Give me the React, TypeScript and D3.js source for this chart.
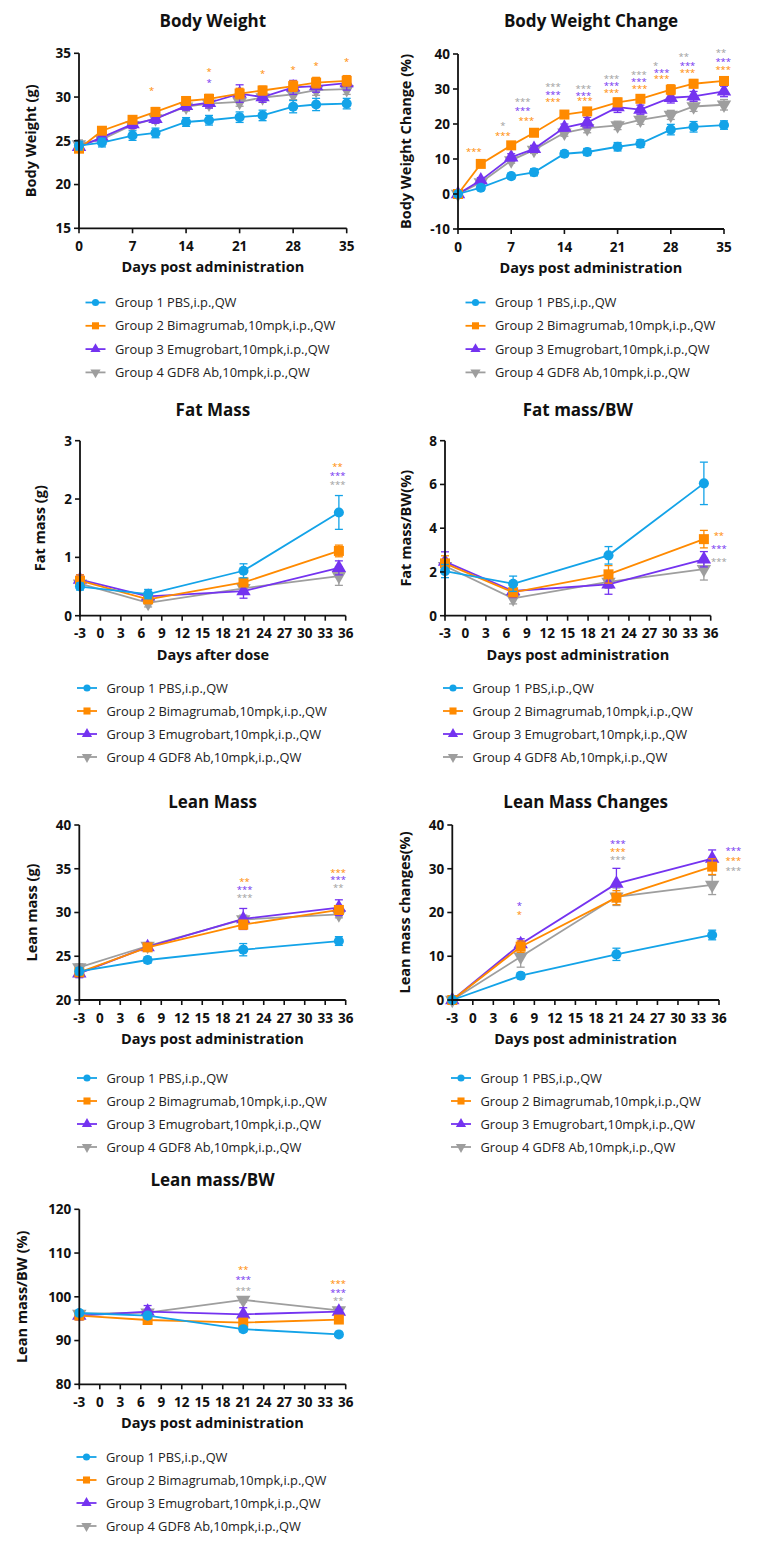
import React from "react";
import * as d3 from "d3";

// ---------- shared ----------
const groupNames = [
  "Group 1 PBS,i.p.,QW",
  "Group 2 Bimagrumab,10mpk,i.p.,QW",
  "Group 3 Emugrobart,10mpk,i.p.,QW",
  "Group 4 GDF8 Ab,10mpk,i.p.,QW",
];
const groupColors = ["#13A3E8", "#FF8A00", "#7433F0", "#9E9E9E"];

// ---------- Body Weight ----------
const bwDays = [0, 3, 7, 10, 14, 17, 21, 24, 28, 31, 35];
const bwG1 = [24.45, 24.8, 25.6, 25.9, 27.15, 27.35, 27.7, 27.9, 28.9, 29.15, 29.25];
const bwG2 = [24.1, 26.15, 27.4, 28.3, 29.55, 29.8, 30.4, 30.75, 31.25, 31.65, 31.85];
const bwG3 = [24.3, 25.4, 26.9, 27.5, 29.0, 29.35, 30.4, 30.0, 31.1, 31.25, 31.6];
const bwG4 = [24.6, 25.15, 26.8, 27.55, 28.9, 29.25, 29.45, 29.95, 30.3, 30.8, 30.9];
const bwE1 = [0.5, 0.5, 0.55, 0.55, 0.5, 0.55, 0.6, 0.6, 0.7, 0.7, 0.6];
const bwE2 = [0.3, 0.4, 0.4, 0.5, 0.5, 0.5, 0.6, 0.5, 0.6, 0.6, 0.6];
const bwE3 = [0.4, 0.4, 0.5, 0.5, 0.5, 0.6, 1.0, 0.6, 0.8, 0.7, 0.8];
const bwE4 = [0.5, 0.4, 0.4, 0.5, 0.5, 0.5, 0.5, 0.5, 0.6, 0.6, 0.6];
const bwStars: [number, number, string, number][] = [
  [9.5, 30.9, "*", 1],
  [17, 33.0, "*", 1],
  [17, 31.8, "*", 2],
  [24, 32.8, "*", 1],
  [28, 33.3, "*", 1],
  [31, 33.7, "*", 1],
  [35, 34.2, "*", 1],
];

// ---------- Body Weight Change ----------
const bwcG1 = [0, 1.8, 5.1, 6.2, 11.5, 12.0, 13.5, 14.4, 18.4, 19.2, 19.7];
const bwcG2 = [0, 8.6, 13.9, 17.5, 22.7, 23.6, 26.2, 27.2, 29.8, 31.5, 32.3];
const bwcG3 = [0, 3.9, 10.5, 12.9, 19.0, 20.4, 24.8, 24.1, 27.5, 27.9, 29.3];
const bwcG4 = [0, 3.3, 9.6, 12.6, 17.5, 18.8, 19.6, 21.2, 22.6, 25.0, 25.5];
const bwcE1 = [0.3, 0.8, 0.8, 1.0, 0.8, 1.0, 1.2, 1.1, 1.5, 1.5, 1.2];
const bwcE2 = [0.3, 0.8, 0.8, 0.8, 0.9, 1.0, 1.2, 1.0, 1.4, 1.2, 1.2];
const bwcE3 = [0.3, 0.8, 1.0, 1.0, 1.0, 1.5, 1.5, 1.3, 1.5, 1.4, 1.5];
const bwcE4 = [0.3, 0.7, 0.8, 1.0, 1.0, 1.3, 1.2, 1.3, 1.3, 1.4, 1.5];
const bwcStars: [number, number, string, number][] = [
  [2.1, 12.4, "***", 1],
  [5.9, 20.0, "*", 3],
  [5.9, 17.1, "***", 1],
  [8.5, 26.6, "***", 3],
  [8.5, 24.2, "***", 2],
  [9.0, 21.4, "***", 1],
  [12.5, 30.9, "***", 3],
  [12.5, 28.8, "***", 2],
  [12.5, 26.7, "***", 1],
  [16.5, 30.5, "***", 3],
  [16.5, 28.4, "***", 2],
  [16.7, 26.9, "***", 1],
  [20.2, 33.3, "***", 3],
  [20.2, 31.2, "***", 2],
  [20.2, 29.2, "***", 1],
  [23.8, 34.3, "***", 3],
  [23.8, 32.5, "***", 2],
  [23.9, 30.4, "***", 1],
  [26.0, 37.0, "*", 3],
  [26.8, 35.0, "***", 2],
  [26.8, 33.4, "***", 1],
  [29.7, 39.5, "**", 3],
  [30.2, 37.1, "***", 2],
  [30.2, 35.1, "***", 1],
  [34.6, 40.8, "**", 3],
  [34.9, 38.2, "***", 2],
  [34.9, 35.8, "***", 1],
];

// ---------- DEXA time points ----------
const scanDays = [-3, 7, 21, 35];

// Fat Mass
const fmG1 = [0.5, 0.37, 0.77, 1.77];
const fmG2 = [0.6, 0.28, 0.57, 1.11];
const fmG3 = [0.62, 0.33, 0.42, 0.82];
const fmG4 = [0.55, 0.22, 0.47, 0.68];
const fmE1 = [0.06, 0.08, 0.12, 0.29];
const fmE2 = [0.1, 0.05, 0.07, 0.1];
const fmE3 = [0.08, 0.06, 0.12, 0.12];
const fmE4 = [0.06, 0.07, 0.06, 0.16];
const fmStars: [number, number, string, number][] = [
  [34.8, 2.57, "**", 1],
  [34.8, 2.42, "***", 2],
  [34.8, 2.27, "***", 3],
];

// Fat mass / BW
const fbG1 = [2.04, 1.46, 2.76, 6.05];
const fbG2 = [2.39, 1.07, 1.89, 3.5];
const fbG3 = [2.47, 1.13, 1.43, 2.58];
const fbG4 = [2.27, 0.79, 1.55, 2.13];
const fbE1 = [0.3, 0.35, 0.4, 0.97];
const fbE2 = [0.35, 0.2, 0.4, 0.4];
const fbE3 = [0.45, 0.3, 0.45, 0.35];
const fbE4 = [0.3, 0.25, 0.3, 0.5];
const fbStars: [number, number, string, number][] = [
  [37.2, 3.73, "**", 1],
  [37.2, 3.12, "***", 2],
  [37.2, 2.54, "***", 3],
];

// Lean Mass
const lmG1 = [23.28, 24.57, 25.75, 26.74];
const lmG2 = [23.16, 26.02, 28.61, 30.29];
const lmG3 = [23.05, 26.06, 29.26, 30.55];
const lmG4 = [23.73, 26.17, 29.2, 29.79];
const lmE1 = [0.4, 0.35, 0.7, 0.5];
const lmE2 = [0.4, 0.4, 0.5, 0.5];
const lmE3 = [0.5, 0.4, 1.2, 0.9];
const lmE4 = [0.4, 0.4, 0.5, 0.4];
const lmStars: [number, number, string, number][] = [
  [21.2, 33.64, "**", 1],
  [21.2, 32.72, "***", 2],
  [21.2, 31.85, "***", 3],
  [34.9, 34.63, "***", 1],
  [34.9, 33.83, "***", 2],
  [34.9, 32.95, "**", 3],
];

// Lean mass changes
const lcG1 = [0, 5.56, 10.44, 14.86];
const lcG2 = [0, 12.19, 23.39, 30.48];
const lcG3 = [0, 12.8, 26.59, 32.3];
const lcG4 = [0, 9.9, 23.6, 26.3];
const lcE1 = [0.3, 0.7, 1.4, 1.1];
const lcE2 = [0.3, 1.3, 1.6, 1.8];
const lcE3 = [0.3, 1.2, 3.5, 2.0];
const lcE4 = [0.3, 2.4, 2.0, 2.2];
const lcStars: [number, number, string, number][] = [
  [6.8, 21.87, "*", 2],
  [6.8, 19.81, "*", 1],
  [21.2, 35.96, "***", 2],
  [21.2, 34.2, "***", 1],
  [21.2, 32.4, "***", 3],
  [38.1, 34.3, "***", 2],
  [38.1, 32.2, "***", 1],
  [38.1, 29.9, "***", 3],
];

// Lean mass / BW
const lbG1 = [96.3, 95.7, 92.6, 91.4];
const lbG2 = [95.7, 94.7, 94.1, 94.8];
const lbG3 = [95.7, 96.6, 96.0, 96.6];
const lbG4 = [96.1, 96.4, 99.3, 96.9];
const lbE1 = [0.6, 0.6, 0.6, 0.5];
const lbE2 = [0.5, 0.7, 0.6, 0.5];
const lbE3 = [1.0, 1.4, 1.5, 0.5];
const lbE4 = [0.6, 0.6, 0.5, 0.5];
const lbStars: [number, number, string, number][] = [
  [21, 106.5, "**", 1],
  [21, 104.1, "***", 2],
  [21, 101.7, "***", 3],
  [34.9, 103.3, "***", 1],
  [34.9, 101.2, "***", 2],
  [34.9, 99.4, "**", 3],
];

const weekTicks = [0, 7, 14, 21, 28, 35];
const dayTicks = [-3, 0, 3, 6, 9, 12, 15, 18, 21, 24, 27, 30, 33, 36];

const FONT = "'Open Sans', 'Noto Sans', sans-serif";

type PanelProps = {
  title: string;
  titleY: number;
  yLabel: string;
  yLabelOffset: number;
  xLabel: string;
  box: { x0: number; x1: number; yTop: number; yBottom: number };
  xDomain: [number, number];
  yDomain: [number, number];
  xTicks: number[];
  yTicks: number[];
  days: number[];
  values: number[][];
  errors: number[][];
  stars: [number, number, string, number][];
  legend: { symX: number; textX: number; y0: number; step: number };
};

const symbolTypes = [d3.symbolCircle, d3.symbolSquare, d3.symbolTriangle, d3.symbolTriangle];
const symbolSizes = [80, 100, 90, 90];

function Marker({ g, x, y, scale = 1 }: { g: number; x: number; y: number; scale?: number }) {
  const path = d3.symbol().type(symbolTypes[g]).size(symbolSizes[g] * scale)() || "";
  const rot = g === 3 ? 180 : 0;
  return (
    <path
      d={path}
      transform={`translate(${x},${y}) rotate(${rot})`}
      fill={groupColors[g]}
      stroke="none"
    />
  );
}

function Panel(p: PanelProps) {
  const x = d3.scaleLinear().domain(p.xDomain).range([p.box.x0, p.box.x1]);
  const y = d3.scaleLinear().domain(p.yDomain).range([p.box.yBottom, p.box.yTop]);
  const line = d3
    .line<[number, number]>()
    .x((d) => x(d[0]))
    .y((d) => y(d[1]));
  const order = [3, 2, 1, 0];
  const cx = (p.box.x0 + p.box.x1) / 2;
  const cy = (p.box.yTop + p.box.yBottom) / 2;
  const axisW = 1.8;
  const tickLen = 5;
  return (
    <g>
      <text x={cx} y={p.titleY} textAnchor="middle" fontFamily={FONT} fontWeight={700} fontSize={17} fill="#111">
        {p.title}
      </text>
      {/* series */}
      {order.map((g) => {
        const pts: [number, number][] = p.days.map((d, i) => [d, p.values[g][i]]);
        return (
          <g key={g}>
            {p.days.map((d, i) => {
              const v = p.values[g][i];
              const e = p.errors[g][i];
              const xx = x(d);
              return (
                <g key={i} stroke={groupColors[g]} strokeWidth={1.3}>
                  <line x1={xx} x2={xx} y1={y(v - e)} y2={y(v + e)} />
                  <line x1={xx - 4} x2={xx + 4} y1={y(v - e)} y2={y(v - e)} />
                  <line x1={xx - 4} x2={xx + 4} y1={y(v + e)} y2={y(v + e)} />
                </g>
              );
            })}
            <path d={line(pts) || ""} fill="none" stroke={groupColors[g]} strokeWidth={1.8} />
            {pts.map((d, i) => (
              <Marker key={i} g={g} x={x(d[0])} y={y(d[1])} />
            ))}
          </g>
        );
      })}
      {/* stars */}
      {p.stars.map((s, i) => (
        <text
          key={i}
          x={x(s[0])}
          y={y(s[1]) + 4.5}
          textAnchor="middle"
          fontFamily={FONT}
          fontSize={9.5}
          fill={groupColors[s[3]]}
        >
          {s[2]}
        </text>
      ))}
      {/* axes */}
      <line x1={p.box.x0} x2={p.box.x0} y1={p.box.yTop} y2={p.box.yBottom + axisW / 2} stroke="#111" strokeWidth={axisW} />
      <line x1={p.box.x0 - axisW / 2} x2={p.box.x1} y1={p.box.yBottom} y2={p.box.yBottom} stroke="#111" strokeWidth={axisW} />
      {p.yTicks.map((t) => (
        <g key={"y" + t}>
          <line x1={p.box.x0 - tickLen} x2={p.box.x0} y1={y(t)} y2={y(t)} stroke="#111" strokeWidth={1.6} />
          <text
            x={p.box.x0 - 8}
            y={y(t) + 4.8}
            textAnchor="end"
            fontFamily={FONT}
            fontWeight={700}
            fontSize={13.5}
            fill="#111"
          >
            {t}
          </text>
        </g>
      ))}
      {p.xTicks.map((t) => (
        <g key={"x" + t}>
          <line x1={x(t)} x2={x(t)} y1={p.box.yBottom} y2={p.box.yBottom + tickLen} stroke="#111" strokeWidth={1.6} />
          <text
            x={x(t)}
            y={p.box.yBottom + 22.5}
            textAnchor="middle"
            fontFamily={FONT}
            fontWeight={700}
            fontSize={13.5}
            fill="#111"
          >
            {t}
          </text>
        </g>
      ))}
      <text
        x={cx}
        y={p.box.yBottom + 44}
        textAnchor="middle"
        fontFamily={FONT}
        fontWeight={700}
        fontSize={14.5}
        fill="#111"
      >
        {p.xLabel}
      </text>
      <text
        transform={`translate(${p.box.x0 - p.yLabelOffset},${cy}) rotate(-90)`}
        textAnchor="middle"
        dominantBaseline="central"
        fontFamily={FONT}
        fontWeight={700}
        fontSize={14.5}
        fill="#111"
      >
        {p.yLabel}
      </text>
      {/* legend */}
      {groupNames.map((name, g) => {
        const ly = p.legend.y0 + g * p.legend.step;
        return (
          <g key={"l" + g}>
            <line
              x1={p.legend.symX - 10}
              x2={p.legend.symX + 10}
              y1={ly}
              y2={ly}
              stroke={groupColors[g]}
              strokeWidth={1.8}
            />
            <Marker g={g} x={p.legend.symX} y={ly} scale={0.5} />
            <text x={p.legend.textX} y={ly + 4.5} fontFamily={FONT} fontSize={12.85} fill="#222">
              {name}
            </text>
          </g>
        );
      })}
    </g>
  );
}

export default function App() {
  const panels: PanelProps[] = [
    {
      title: "Body Weight",
      titleY: 27,
      yLabel: "Body Weight (g)",
      yLabelOffset: 49,
      xLabel: "Days post administration",
      box: { x0: 79, x1: 346.7, yTop: 53.3, yBottom: 228.3 },
      xDomain: [0, 35],
      yDomain: [15, 35],
      xTicks: weekTicks,
      yTicks: [15, 20, 25, 30, 35],
      days: bwDays,
      values: [bwG1, bwG2, bwG3, bwG4],
      errors: [bwE1, bwE2, bwE3, bwE4],
      stars: bwStars,
      legend: { symX: 95.5, textX: 115, y0: 302.5, step: 23.3 },
    },
    {
      title: "Body Weight Change",
      titleY: 27,
      yLabel: "Body Weight Change (%)",
      yLabelOffset: 53,
      xLabel: "Days post administration",
      box: { x0: 458, x1: 724, yTop: 54, yBottom: 229 },
      xDomain: [0, 35],
      yDomain: [-10, 40],
      xTicks: weekTicks,
      yTicks: [-10, 0, 10, 20, 30, 40],
      days: bwDays,
      values: [bwcG1, bwcG2, bwcG3, bwcG4],
      errors: [bwcE1, bwcE2, bwcE3, bwcE4],
      stars: bwcStars,
      legend: { symX: 475.5, textX: 495, y0: 302.5, step: 23.3 },
    },
    {
      title: "Fat Mass",
      titleY: 416,
      yLabel: "Fat mass (g)",
      yLabelOffset: 41,
      xLabel: "Days after dose",
      box: { x0: 80, x1: 345.7, yTop: 440.7, yBottom: 615.7 },
      xDomain: [-3, 36],
      yDomain: [0, 3],
      xTicks: dayTicks,
      yTicks: [0, 1, 2, 3],
      days: scanDays,
      values: [fmG1, fmG2, fmG3, fmG4],
      errors: [fmE1, fmE2, fmE3, fmE4],
      stars: fmStars,
      legend: { symX: 87, textX: 106.5, y0: 688, step: 23 },
    },
    {
      title: "Fat mass/BW",
      titleY: 416,
      yLabel: "Fat mass/BW(%)",
      yLabelOffset: 40,
      xLabel: "Days post administration",
      box: { x0: 445, x1: 710.7, yTop: 440.7, yBottom: 615.7 },
      xDomain: [-3, 36],
      yDomain: [0, 8],
      xTicks: dayTicks,
      yTicks: [0, 2, 4, 6, 8],
      days: scanDays,
      values: [fbG1, fbG2, fbG3, fbG4],
      errors: [fbE1, fbE2, fbE3, fbE4],
      stars: fbStars,
      legend: { symX: 453, textX: 472.5, y0: 688, step: 23 },
    },
    {
      title: "Lean Mass",
      titleY: 808,
      yLabel: "Lean mass (g)",
      yLabelOffset: 47.6,
      xLabel: "Days post administration",
      box: { x0: 79.3, x1: 345.7, yTop: 825, yBottom: 1000 },
      xDomain: [-3, 36],
      yDomain: [20, 40],
      xTicks: dayTicks,
      yTicks: [20, 25, 30, 35, 40],
      days: scanDays,
      values: [lmG1, lmG2, lmG3, lmG4],
      errors: [lmE1, lmE2, lmE3, lmE4],
      stars: lmStars,
      legend: { symX: 87, textX: 106.5, y0: 1078, step: 23 },
    },
    {
      title: "Lean Mass Changes",
      titleY: 808,
      yLabel: "Lean mass changes(%)",
      yLabelOffset: 47.6,
      xLabel: "Days post administration",
      box: { x0: 452.3, x1: 719, yTop: 825, yBottom: 1000 },
      xDomain: [-3, 36],
      yDomain: [0, 40],
      xTicks: dayTicks,
      yTicks: [0, 10, 20, 30, 40],
      days: scanDays,
      values: [lcG1, lcG2, lcG3, lcG4],
      errors: [lcE1, lcE2, lcE3, lcE4],
      stars: lcStars,
      legend: { symX: 461, textX: 480.5, y0: 1078, step: 23 },
    },
    {
      title: "Lean mass/BW",
      titleY: 1186,
      yLabel: "Lean mass/BW (%)",
      yLabelOffset: 57.6,
      xLabel: "Days post administration",
      box: { x0: 79.3, x1: 345.7, yTop: 1209.3, yBottom: 1384.3 },
      xDomain: [-3, 36],
      yDomain: [80, 120],
      xTicks: dayTicks,
      yTicks: [80, 90, 100, 110, 120],
      days: scanDays,
      values: [lbG1, lbG2, lbG3, lbG4],
      errors: [lbE1, lbE2, lbE3, lbE4],
      stars: lbStars,
      legend: { symX: 86.5, textX: 106, y0: 1457, step: 23 },
    },
  ];
  return (
    <svg
      width={768}
      height={1547}
      viewBox="0 0 768 1547"
      style={{ position: "absolute", left: 0, top: 0, background: "#fff" }}
    >
      <rect x={0} y={0} width={768} height={1547} fill="#fff" />
      {panels.map((p, i) => (
        <Panel key={i} {...p} />
      ))}
    </svg>
  );
}
